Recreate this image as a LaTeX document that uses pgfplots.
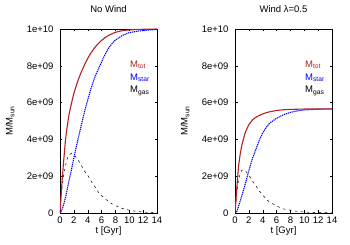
\documentclass[border=0pt]{standalone}
\usepackage{pgfplots}
\pgfplotsset{compat=1.18}
\usepackage{fontspec}
\setmainfont{Liberation Sans}
\definecolor{totred}{RGB}{178,34,34}

\newcommand{\lbl}{\fontsize{9.5}{11}\selectfont}
\newcommand{\sub}[1]{\raisebox{-0.35ex}{\fontsize{6.7}{7}\selectfont #1}}

\tikzset{key/.style={anchor=west, font=\lbl, inner sep=0pt}}

\pgfplotsset{
  panel/.style={
    scale only axis, width=97pt, height=184pt,
    anchor=south west,
    xmin=0, xmax=14, ymin=0, ymax=1e10,
    xtick={0,2,...,14},
    ytick={0,2e9,4e9,6e9,8e9,1e10},
    yticklabels={0,2e+09,4e+09,6e+09,8e+09,1e+10},
    scaled y ticks=false,
    tick align=inside,
    major tick length=2.5pt,
    tick style={black, line width=0.4pt},
    /pgf/number format/assume math mode=true,
    tick label style={font=\lbl},
    yticklabel style={xshift=-3pt},
    label style={font=\lbl},
    title style={font=\lbl, at={(axis description cs:0.5,1)}, anchor=center, yshift=14pt},
    xlabel={t [Gyr]},
    ylabel={M/M\sub{sun}},
    xlabel style={yshift=4pt},
    ylabel style={at={(axis description cs:0,0.5)}, anchor=center, yshift=50pt},
    axis line style={line width=0.6pt},
  },
  tot/.style={color=totred, line width=1.1pt},
  star/.style={color=blue, line width=1.1pt, dash pattern=on 1.2pt off 0.8pt},
  gas/.style={color=black, line width=0.5pt, dash pattern=on 2.5pt off 3.5pt},
}

\pgfplotstableread{
t     tot     star    gas
0     0       0       0
0.1   0.6e9   0.02e9  0.55e9
0.25  1.5e9   0.15e9  1.25e9
0.5   2.7e9   0.42e9  2.0e9
0.8   4.0e9   0.85e9  2.6e9
1     4.6e9   1.2e9   2.9e9
1.3   5.35e9  1.75e9  3.15e9
1.68  6.0e9   2.4e9   3.25e9
2     6.5e9   3.0e9   3.15e9
2.5   7.1e9   3.85e9  2.95e9
3     7.6e9   4.65e9  2.65e9
3.5   8.02e9  5.45e9  2.3e9
4     8.4e9   6.15e9  2.05e9
4.5   8.72e9  6.8e9   1.72e9
5     8.98e9  7.35e9  1.45e9
5.5   9.2e9   7.8e9   1.15e9
6     9.38e9  8.2e9   0.95e9
6.5   9.53e9  8.62e9  0.78e9
7     9.65e9  8.95e9  0.62e9
7.5   9.74e9  9.2e9   0.5e9
8     9.82e9  9.4e9   0.4e9
9     9.91e9  9.65e9  0.25e9
10    9.95e9  9.8e9   0.15e9
11    9.97e9  9.87e9  0.09e9
12    9.985e9 9.92e9  0.05e9
13    9.99e9  9.95e9  0.03e9
14    10.0e9  9.97e9  0.02e9
}\nowind

\pgfplotstableread{
t     tot     star    gas
0     0       0       0
0.1   0.5e9   0.01e9  0.45e9
0.25  1.3e9   0.08e9  1.1e9
0.5   2.5e9   0.35e9  1.75e9
0.75  3.2e9   0.65e9  2.15e9
1     3.7e9   0.95e9  2.33e9
1.5   4.4e9   1.6e9   2.3e9
2     4.8e9   2.3e9   2.05e9
2.5   5.05e9  2.95e9  1.75e9
3     5.2e9   3.45e9  1.5e9
3.5   5.3e9   3.95e9  1.2e9
4     5.38e9  4.35e9  0.98e9
4.5   5.45e9  4.65e9  0.75e9
5     5.5e9   4.88e9  0.6e9
6     5.57e9  5.15e9  0.38e9
7     5.61e9  5.34e9  0.22e9
8     5.63e9  5.47e9  0.15e9
9     5.64e9  5.55e9  0.09e9
10    5.65e9  5.6e9   0.05e9
12    5.65e9  5.64e9  0.02e9
14    5.66e9  5.655e9 0.01e9
}\wind

\begin{document}
\begin{tikzpicture}[x=1pt,y=1pt]
\useasboundingbox (0,0) rectangle (350,245);

\begin{axis}[panel, at={(60pt,32pt)}, title={No Wind}]
  \addplot[gas] table[x=t,y=gas] {\nowind};
  \addplot[star] table[x=t,y=star] {\nowind};
  \addplot[tot] table[x=t,y=tot] {\nowind};
  \node[key, text=totred] at (axis cs:10.1,8.06e9) {M\sub{tot}};
  \node[key, text=blue]   at (axis cs:10.1,7.35e9) {M\sub{star}};
  \node[key, text=black]  at (axis cs:10.1,6.65e9) {M\sub{gas}};
\end{axis}

\begin{axis}[panel, at={(235pt,32pt)}, title={Wind λ=0.5}]
  \addplot[gas] table[x=t,y=gas] {\wind};
  \addplot[star] table[x=t,y=star] {\wind};
  \addplot[tot] table[x=t,y=tot] {\wind};
  \node[key, text=totred] at (axis cs:10.1,8.06e9) {M\sub{tot}};
  \node[key, text=blue]   at (axis cs:10.1,7.35e9) {M\sub{star}};
  \node[key, text=black]  at (axis cs:10.1,6.65e9) {M\sub{gas}};
\end{axis}
\end{tikzpicture}
\end{document}
